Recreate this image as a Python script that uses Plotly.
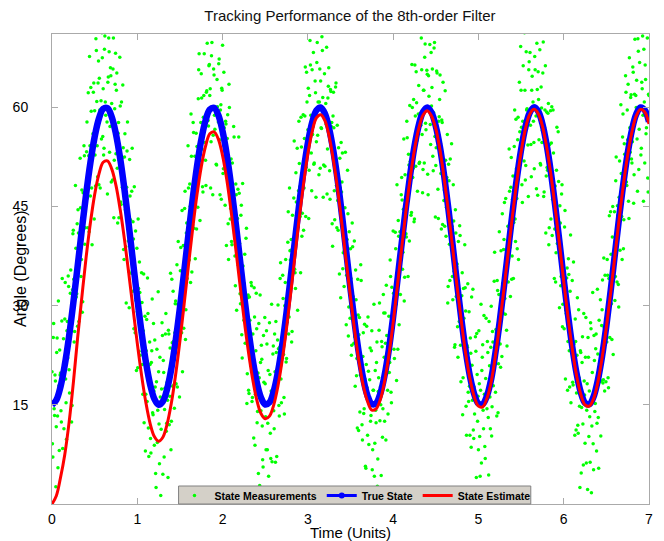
import plotly.graph_objects as go

t_curve = [0.0,0.05,0.1,0.15,0.2,0.25,0.3,0.35,0.4,0.45,
0.5,0.55,0.6,0.65,0.7,0.75,0.8,0.85,0.9,0.95,
1.0,1.05,1.1,1.15,1.2,1.25,1.3,1.35,1.4,1.45,
1.5,1.55,1.6,1.65,1.7,1.75,1.8,1.85,1.9,1.95,
2.0,2.05,2.1,2.15,2.2,2.25,2.3,2.35,2.4,2.45,
2.5,2.55,2.6,2.65,2.7,2.75,2.8,2.85,2.9,2.95,
3.0,3.05,3.1,3.15,3.2,3.25,3.3,3.35,3.4,3.45,
3.5,3.55,3.6,3.65,3.7,3.75,3.8,3.85,3.9,3.95,
4.0,4.05,4.1,4.15,4.2,4.25,4.3,4.35,4.4,4.45,
4.5,4.55,4.6,4.65,4.7,4.75,4.8,4.85,4.9,4.95,
5.0,5.05,5.1,5.15,5.2,5.25,5.3,5.35,5.4,5.45,
5.5,5.55,5.6,5.65,5.7,5.75,5.8,5.85,5.9,5.95,
6.0,6.05,6.1,6.15,6.2,6.25,6.3,6.35,6.4,6.45,
6.5,6.55,6.6,6.65,6.7,6.75,6.8,6.85,6.9,6.95,
7.0]

true_state = [15.00,15.70,17.75,21.04,25.34,30.41,35.91,41.51,46.86,51.63,
55.52,58.30,59.77,59.87,58.57,55.96,52.21,47.54,42.24,36.65,
31.12,25.98,21.55,18.13,15.90,15.00,15.53,17.41,20.54,24.72,
29.70,35.17,40.77,46.20,51.05,55.08,58.00,59.66,59.94,58.83,
56.38,52.77,48.20,42.96,37.40,31.84,26.63,22.09,18.51,16.12,
15.05,15.37,17.08,20.05,24.11,28.99,34.42,40.02,45.49,50.42,
54.59,57.69,59.55,59.99,59.05,56.78,53.33,48.91,43.69,38.14,
32.56,27.29,22.64,18.92,16.37,15.13,15.25,16.73,19.49,23.38,
28.32,33.83,39.40,44.91,49.82,54.09,57.28,59.31,60.00,59.23,
57.15,53.92,49.49,44.40,38.89,33.29,27.96,23.22,19.36,16.65,
15.20,15.10,16.36,18.93,22.94,27.65,33.01,38.56,44.07,49.20,
53.60,56.97,59.16,60.00,59.44,57.52,54.33,50.13,45.13,39.66,
34.03,28.64,23.81,19.81,16.92,15.31,15.08,16.23,18.73,22.37,
26.96,32.22,37.80,43.35,48.55,53.06,56.59,58.95,59.98,59.59,
57.83]

state_estimate = [0.0,1.2,4.0,7.5,12.3,18.3,25.1,31.3,37.3,42.5,
46.8,49.9,51.7,51.9,50.7,48.2,44.5,40.0,34.9,29.6,
24.3,19.5,15.4,12.2,10.2,9.5,10.1,12.1,15.3,19.6,
24.7,30.3,36.1,41.7,46.8,51.0,54.1,56.0,56.3,55.2,
52.7,49.0,44.3,39.1,33.6,28.2,23.3,19.1,15.8,13.7,
12.9,13.3,15.0,17.9,21.8,26.6,32.0,37.7,43.4,48.5,
53.0,56.3,58.4,58.9,58.0,55.6,52.0,47.5,42.3,36.7,
31.3,26.1,21.5,17.9,15.5,14.2,14.4,15.8,18.6,22.5,
27.4,33.0,38.7,44.3,49.3,53.6,56.8,58.8,59.5,58.7,
56.8,53.5,49.1,44.0,38.5,32.9,27.6,22.8,19.0,16.3,
14.8,14.7,16.0,18.5,22.5,27.3,32.6,38.2,43.7,48.8,
53.2,56.7,58.9,59.7,59.1,57.2,54.0,49.8,44.8,39.4,
33.7,28.3,23.5,19.5,16.6,15.0,14.8,15.9,18.4,22.1,
26.7,31.9,37.5,43.1,48.3,52.8,56.3,58.7,59.7,59.3,
57.5]

meas_t = [0.00,0.01,0.02,0.03,0.04,0.05,0.06,0.07,0.08,0.09,0.10,0.11,0.12,0.13,0.14,0.15,0.16,0.17,0.18,0.19,
0.20,0.21,0.22,0.23,0.24,0.25,0.26,0.27,0.28,0.29,0.30,0.31,0.32,0.33,0.34,0.35,0.36,0.37,0.38,0.39,
0.40,0.41,0.42,0.43,0.44,0.45,0.46,0.47,0.48,0.49,0.50,0.51,0.52,0.53,0.54,0.55,0.56,0.57,0.58,0.59,
0.60,0.61,0.62,0.63,0.64,0.65,0.66,0.67,0.68,0.69,0.70,0.71,0.72,0.73,0.74,0.75,0.76,0.77,0.78,0.79,
0.80,0.81,0.82,0.83,0.84,0.85,0.86,0.87,0.88,0.89,0.90,0.91,0.92,0.93,0.94,0.95,0.96,0.97,0.98,0.99,
1.00,1.01,1.02,1.03,1.04,1.05,1.06,1.07,1.08,1.09,1.10,1.11,1.12,1.13,1.14,1.15,1.16,1.17,1.18,1.19,
1.20,1.21,1.22,1.23,1.24,1.25,1.26,1.27,1.28,1.29,1.30,1.31,1.32,1.33,1.34,1.35,1.36,1.37,1.38,1.39,
1.40,1.41,1.42,1.43,1.44,1.45,1.46,1.47,1.48,1.49,1.50,1.51,1.52,1.53,1.54,1.55,1.56,1.57,1.58,1.59,
1.60,1.61,1.62,1.63,1.64,1.65,1.66,1.67,1.68,1.69,1.70,1.71,1.72,1.73,1.74,1.75,1.76,1.77,1.78,1.79,
1.80,1.81,1.82,1.83,1.84,1.85,1.86,1.87,1.88,1.89,1.90,1.91,1.92,1.93,1.94,1.95,1.96,1.97,1.98,1.99,
2.00,2.01,2.02,2.03,2.04,2.05,2.06,2.07,2.08,2.09,2.10,2.11,2.12,2.13,2.14,2.15,2.16,2.17,2.18,2.19,
2.20,2.21,2.22,2.23,2.24,2.25,2.26,2.27,2.28,2.29,2.30,2.31,2.32,2.33,2.34,2.35,2.36,2.37,2.38,2.39,
2.40,2.41,2.42,2.43,2.44,2.45,2.46,2.47,2.48,2.49,2.50,2.51,2.52,2.53,2.54,2.55,2.56,2.57,2.58,2.59,
2.60,2.61,2.62,2.63,2.64,2.65,2.66,2.67,2.68,2.69,2.70,2.71,2.72,2.73,2.74,2.75,2.76,2.77,2.78,2.79,
2.80,2.81,2.82,2.83,2.84,2.85,2.86,2.87,2.88,2.89,2.90,2.91,2.92,2.93,2.94,2.95,2.96,2.97,2.98,2.99,
3.00,3.01,3.02,3.03,3.04,3.05,3.06,3.07,3.08,3.09,3.10,3.11,3.12,3.13,3.14,3.15,3.16,3.17,3.18,3.19,
3.20,3.21,3.22,3.23,3.24,3.25,3.26,3.27,3.28,3.29,3.30,3.31,3.32,3.33,3.34,3.35,3.36,3.37,3.38,3.39,
3.40,3.41,3.42,3.43,3.44,3.45,3.46,3.47,3.48,3.49,3.50,3.51,3.52,3.53,3.54,3.55,3.56,3.57,3.58,3.59,
3.60,3.61,3.62,3.63,3.64,3.65,3.66,3.67,3.68,3.69,3.70,3.71,3.72,3.73,3.74,3.75,3.76,3.77,3.78,3.79,
3.80,3.81,3.82,3.83,3.84,3.85,3.86,3.87,3.88,3.89,3.90,3.91,3.92,3.93,3.94,3.95,3.96,3.97,3.98,3.99,
4.00,4.01,4.02,4.03,4.04,4.05,4.06,4.07,4.08,4.09,4.10,4.11,4.12,4.13,4.14,4.15,4.16,4.17,4.18,4.19,
4.20,4.21,4.22,4.23,4.24,4.25,4.26,4.27,4.28,4.29,4.30,4.31,4.32,4.33,4.34,4.35,4.36,4.37,4.38,4.39,
4.40,4.41,4.42,4.43,4.44,4.45,4.46,4.47,4.48,4.49,4.50,4.51,4.52,4.53,4.54,4.55,4.56,4.57,4.58,4.59,
4.60,4.61,4.62,4.63,4.64,4.65,4.66,4.67,4.68,4.69,4.70,4.71,4.72,4.73,4.74,4.75,4.76,4.77,4.78,4.79,
4.80,4.81,4.82,4.83,4.84,4.85,4.86,4.87,4.88,4.89,4.90,4.91,4.92,4.93,4.94,4.95,4.96,4.97,4.98,4.99,
5.00,5.01,5.02,5.03,5.04,5.05,5.06,5.07,5.08,5.09,5.10,5.11,5.12,5.13,5.14,5.15,5.16,5.17,5.18,5.19,
5.20,5.21,5.22,5.23,5.24,5.25,5.26,5.27,5.28,5.29,5.30,5.31,5.32,5.33,5.34,5.35,5.36,5.37,5.38,5.39,
5.40,5.41,5.42,5.43,5.44,5.45,5.46,5.47,5.48,5.49,5.50,5.51,5.52,5.53,5.54,5.55,5.56,5.57,5.58,5.59,
5.60,5.61,5.62,5.63,5.64,5.65,5.66,5.67,5.68,5.69,5.70,5.71,5.72,5.73,5.74,5.75,5.76,5.77,5.78,5.79,
5.80,5.81,5.82,5.83,5.84,5.85,5.86,5.87,5.88,5.89,5.90,5.91,5.92,5.93,5.94,5.95,5.96,5.97,5.98,5.99,
6.00,6.01,6.02,6.03,6.04,6.05,6.06,6.07,6.08,6.09,6.10,6.11,6.12,6.13,6.14,6.15,6.16,6.17,6.18,6.19,
6.20,6.21,6.22,6.23,6.24,6.25,6.26,6.27,6.28,6.29,6.30,6.31,6.32,6.33,6.34,6.35,6.36,6.37,6.38,6.39,
6.40,6.41,6.42,6.43,6.44,6.45,6.46,6.47,6.48,6.49,6.50,6.51,6.52,6.53,6.54,6.55,6.56,6.57,6.58,6.59,
6.60,6.61,6.62,6.63,6.64,6.65,6.66,6.67,6.68,6.69,6.70,6.71,6.72,6.73,6.74,6.75,6.76,6.77,6.78,6.79,
6.80,6.81,6.82,6.83,6.84,6.85,6.86,6.87,6.88,6.89,6.90,6.91,6.92,6.93,6.94,6.95,6.96,6.97,6.98,6.99,
7.00]

meas_y = [20.0,7.1,27.3,13.4,18.6, 11.7,25.1,5.5,17.9,23.3, 19.8,12.4,34.1,18.7,11.4, 28.0,18.9,9.8,27.6,34.5,
20.3,27.4,35.4,12.4,32.4, 41.4,24.5,32.6,38.7,31.8, 26.9,41.0,36.2,52.3,34.4, 47.5,30.6,45.7,52.7,41.8,
45.9,57.8,41.8,52.7,67.7, 46.6,59.4,39.2,56.0,63.7, 59.5,48.1,68.6,54.2,63.7, 48.3,59.6,73.9,55.2,67.5,
62.8,53.8,70.8,58.8,78.8, 46.9,64.6,68.4,57.1,64.8, 60.6,49.0,70.5,52.0,63.5, 53.0,65.2,42.5,57.7,52.0,
60.2,45.3,52.3,63.4,38.5, 52.5,44.5,30.4,53.4,44.3, 35.2,52.1,43.0,34.9,53.8, 42.7,26.5,35.4,41.3,20.2,
29.1,43.1,23.1,32.0,26.0, 35.0,21.1,26.2,12.3,28.4, 16.6,27.9,34.2,11.5,19.8, 21.1,7.7,23.2,13.8,27.3,
8.9,17.7,2.5,23.4,14.2, 20.0,6.1,16.2,11.3,27.4, 4.5,19.9,14.3,25.7,11.0, 18.4,4.0,25.7,16.3,34.9,
12.5,24.4,32.2,18.0,25.9, 30.7,23.7,17.7,39.7,24.7, 30.7,38.8,25.9,20.0,39.1, 32.2,47.3,29.4,42.5,38.6,
47.8,36.9,45.0,59.0,35.1, 42.2,56.2,47.1,37.1,56.1, 54.1,44.9,65.7,54.5,51.3, 65.1,53.7,47.2,61.8,73.4,
52.0,62.3,69.7,58.0,66.3, 61.8,47.8,67.8,73.8,55.8, 64.9,56.7,71.5,51.3,60.1, 57.8,67.3,46.8,60.4,62.9,
69.4,50.7,56.9,45.2,57.5, 50.8,58.9,37.0,60.0,43.1, 52.2,39.2,47.1,57.1,41.0, 33.0,46.8,38.7,47.6,55.5,
39.4,30.3,45.2,22.1,36.0, 27.8,37.8,28.8,41.7,19.7, 31.6,16.7,27.8,20.9,33.0, 16.1,22.4,32.7,8.9,23.2,
26.5,14.0,4.6,19.1,31.6, 14.1,21.9,6.7,25.5,1.3, 18.2,8.2,24.2,12.2,4.2, 27.4,10.7,17.1,6.4,22.7,
14.1,25.7,6.3,22.9,18.5, 30.1,14.9,23.7,36.5,15.3, 23.1,31.1,16.1,30.0,37.0, 22.0,31.1,44.2,28.3,38.3,
38.4,24.5,43.7,35.8,54.9, 35.0,50.1,41.2,29.3,47.4, 51.5,43.5,58.5,40.5,50.4, 41.4,55.3,66.1,50.9,60.8,
56.6,43.2,61.8,66.4,53.1, 65.7,57.1,51.4,75.8,62.2, 54.8,69.8,60.8,49.8,65.8, 64.0,56.8,68.6,46.4,72.2,
51.1,60.6,69.1,53.7,63.2, 57.8,46.1,62.4,57.7,39.0, 62.3,47.4,50.6,63.7,41.8, 45.9,53.9,34.8,47.8,54.7,
48.7,35.6,42.5,38.4,53.2, 27.1,40.0,43.9,29.8,32.7, 38.6,22.5,42.5,31.4,24.3, 25.3,35.4,19.4,11.5,28.6,
25.6,13.9,36.2,19.4,9.7, 25.9,14.4,18.9,5.4,26.9, 10.4,20.1,0.9,23.6,13.4, 26.2,8.2,17.2,4.2,20.2,
12.3,24.5,6.8,19.1,30.4, 17.7,4.3,23.8,14.4,28.9, 12.5,24.3,33.1,19.8,13.6, 28.4,21.4,34.4,15.3,28.3,
41.3,23.4,32.5,38.6,18.7, 31.8,42.9,27.1,41.2,39.3, 49.4,35.5,44.6,30.7,49.8, 40.9,57.9,45.9,52.9,39.8,
51.8,43.7,66.5,49.4,61.2, 43.1,58.7,65.4,55.0,73.6, 63.3,51.7,59.1,70.5,55.9, 50.6,62.6,67.6,57.6,73.6,
65.0,46.8,61.7,69.5,54.4, 60.2,65.8,50.4,69.0,55.6, 51.2,65.5,54.9,43.2,58.6, 64.9,50.0,58.1,42.3,51.4,
47.5,62.5,40.5,49.4,30.4, 51.4,39.3,52.2,40.1,42.0, 30.9,42.8,23.7,44.5,31.4, 36.3,22.2,32.2,42.1,24.0,
27.0,35.0,19.1,28.1,39.2, 29.2,10.4,23.7,16.9,29.1, 10.4,22.8,31.3,15.7,11.2, 17.7,2.4,23.1,25.8,12.5,
8.2,18.2,4.2,30.2,20.2, 24.1,11.4,16.6,6.9,28.1, 14.4,22.9,4.4,20.9,11.4, 29.9,14.7,24.5,20.3,38.1,
16.9,25.9,33.8,13.8,31.7, 31.7,20.7,28.8,43.9,28.9, 40.0,31.1,46.2,26.3,38.5, 33.6,53.7,38.8,47.9,34.0,
46.1,34.1,54.1,43.1,58.2, 46.2,55.1,37.0,63.8,53.7, 62.6,48.3,57.9,54.6,71.3, 49.0,68.4,59.8,54.3,65.7,
72.2,57.3,49.5,64.7,60.8, 54.7,67.7,75.7,47.7,62.7, 65.4,55.1,68.7,51.3,59.9, 56.5,69.9,47.2,59.6,41.0,
59.3,50.5,60.6,41.8,52.0, 43.1,60.1,46.1,53.1,34.1, 48.1,38.0,57.0,40.9,48.8, 29.7,42.5,34.4,48.3,30.2,
35.0,41.9,18.9,28.8,35.7, 24.6,34.7,17.7,40.7,23.8, 33.8,18.0,24.2,10.4,24.6, 16.8,31.2,10.7,19.1,2.5,
22.9,14.6,25.3,5.9,18.6, 9.2,28.2,14.2,2.2,22.2, 17.1,6.3,26.5,11.8,32.0, 5.2,21.7,15.2,25.7,12.2,
22.7,5.4,21.2,30.9,18.6, 29.4,18.3,37.2,17.1,28.0, 25.0,37.0,19.1,34.1,25.2, 44.2,30.3,40.4,22.6,37.7,
30.8,48.9,39.0,45.1,33.2, 46.4,38.4,60.4,43.5,55.5, 38.6,54.5,51.4,62.3,48.2, 55.1,45.8,67.5,53.2,61.9,
51.6,66.1,45.5,62.0,74.5, 60.0,55.2,70.4,50.6,66.8, 73.8,53.8,62.8,58.8,68.8, 51.6,64.2,56.9,70.5,47.2,
61.8]

meas_t_mid = [0.005,0.015,0.025,0.035,0.045,0.055,0.065,0.075,0.085,0.095,0.105,0.115,0.125,0.135,0.145,0.155,0.165,0.175,0.185,0.195,
0.205,0.215,0.225,0.235,0.245,0.255,0.265,0.275,0.285,0.295,0.305,0.315,0.325,0.335,0.345,0.355,0.365,0.375,0.385,0.395,
0.405,0.415,0.425,0.435,0.445,0.455,0.465,0.475,0.485,0.495,0.505,0.515,0.525,0.535,0.545,0.555,0.565,0.575,0.585,0.595,
0.605,0.615,0.625,0.635,0.645,0.655,0.665,0.675,0.685,0.695,0.705,0.715,0.725,0.735,0.745,0.755,0.765,0.775,0.785,0.795,
0.805,0.815,0.825,0.835,0.845,0.855,0.865,0.875,0.885,0.895,0.905,0.915,0.925,0.935,0.945,0.955,0.965,0.975,0.985,0.995,
1.005,1.015,1.025,1.035,1.045,1.055,1.065,1.075,1.085,1.095,1.105,1.115,1.125,1.135,1.145,1.155,1.165,1.175,1.185,1.195,
1.205,1.215,1.225,1.235,1.245,1.255,1.265,1.275,1.285,1.295,1.305,1.315,1.325,1.335,1.345,1.355,1.365,1.375,1.385,1.395,
1.405,1.415,1.425,1.435,1.445,1.455,1.465,1.475,1.485,1.495,1.505,1.515,1.525,1.535,1.545,1.555,1.565,1.575,1.585,1.595,
1.605,1.615,1.625,1.635,1.645,1.655,1.665,1.675,1.685,1.695,1.705,1.715,1.725,1.735,1.745,1.755,1.765,1.775,1.785,1.795,
1.805,1.815,1.825,1.835,1.845,1.855,1.865,1.875,1.885,1.895,1.905,1.915,1.925,1.935,1.945,1.955,1.965,1.975,1.985,1.995,
2.005,2.015,2.025,2.035,2.045,2.055,2.065,2.075,2.085,2.095,2.105,2.115,2.125,2.135,2.145,2.155,2.165,2.175,2.185,2.195,
2.205,2.215,2.225,2.235,2.245,2.255,2.265,2.275,2.285,2.295,2.305,2.315,2.325,2.335,2.345,2.355,2.365,2.375,2.385,2.395,
2.405,2.415,2.425,2.435,2.445,2.455,2.465,2.475,2.485,2.495,2.505,2.515,2.525,2.535,2.545,2.555,2.565,2.575,2.585,2.595,
2.605,2.615,2.625,2.635,2.645,2.655,2.665,2.675,2.685,2.695,2.705,2.715,2.725,2.735,2.745,2.755,2.765,2.775,2.785,2.795,
2.805,2.815,2.825,2.835,2.845,2.855,2.865,2.875,2.885,2.895,2.905,2.915,2.925,2.935,2.945,2.955,2.965,2.975,2.985,2.995,
3.005,3.015,3.025,3.035,3.045,3.055,3.065,3.075,3.085,3.095,3.105,3.115,3.125,3.135,3.145,3.155,3.165,3.175,3.185,3.195,
3.205,3.215,3.225,3.235,3.245,3.255,3.265,3.275,3.285,3.295,3.305,3.315,3.325,3.335,3.345,3.355,3.365,3.375,3.385,3.395,
3.405,3.415,3.425,3.435,3.445,3.455,3.465,3.475,3.485,3.495,3.505,3.515,3.525,3.535,3.545,3.555,3.565,3.575,3.585,3.595,
3.605,3.615,3.625,3.635,3.645,3.655,3.665,3.675,3.685,3.695,3.705,3.715,3.725,3.735,3.745,3.755,3.765,3.775,3.785,3.795,
3.805,3.815,3.825,3.835,3.845,3.855,3.865,3.875,3.885,3.895,3.905,3.915,3.925,3.935,3.945,3.955,3.965,3.975,3.985,3.995,
4.005,4.015,4.025,4.035,4.045,4.055,4.065,4.075,4.085,4.095,4.105,4.115,4.125,4.135,4.145,4.155,4.165,4.175,4.185,4.195,
4.205,4.215,4.225,4.235,4.245,4.255,4.265,4.275,4.285,4.295,4.305,4.315,4.325,4.335,4.345,4.355,4.365,4.375,4.385,4.395,
4.405,4.415,4.425,4.435,4.445,4.455,4.465,4.475,4.485,4.495,4.505,4.515,4.525,4.535,4.545,4.555,4.565,4.575,4.585,4.595,
4.605,4.615,4.625,4.635,4.645,4.655,4.665,4.675,4.685,4.695,4.705,4.715,4.725,4.735,4.745,4.755,4.765,4.775,4.785,4.795,
4.805,4.815,4.825,4.835,4.845,4.855,4.865,4.875,4.885,4.895,4.905,4.915,4.925,4.935,4.945,4.955,4.965,4.975,4.985,4.995,
5.005,5.015,5.025,5.035,5.045,5.055,5.065,5.075,5.085,5.095,5.105,5.115,5.125,5.135,5.145,5.155,5.165,5.175,5.185,5.195,
5.205,5.215,5.225,5.235,5.245,5.255,5.265,5.275,5.285,5.295,5.305,5.315,5.325,5.335,5.345,5.355,5.365,5.375,5.385,5.395,
5.405,5.415,5.425,5.435,5.445,5.455,5.465,5.475,5.485,5.495,5.505,5.515,5.525,5.535,5.545,5.555,5.565,5.575,5.585,5.595,
5.605,5.615,5.625,5.635,5.645,5.655,5.665,5.675,5.685,5.695,5.705,5.715,5.725,5.735,5.745,5.755,5.765,5.775,5.785,5.795,
5.805,5.815,5.825,5.835,5.845,5.855,5.865,5.875,5.885,5.895,5.905,5.915,5.925,5.935,5.945,5.955,5.965,5.975,5.985,5.995,
6.005,6.015,6.025,6.035,6.045,6.055,6.065,6.075,6.085,6.095,6.105,6.115,6.125,6.135,6.145,6.155,6.165,6.175,6.185,6.195,
6.205,6.215,6.225,6.235,6.245,6.255,6.265,6.275,6.285,6.295,6.305,6.315,6.325,6.335,6.345,6.355,6.365,6.375,6.385,6.395,
6.405,6.415,6.425,6.435,6.445,6.455,6.465,6.475,6.485,6.495,6.505,6.515,6.525,6.535,6.545,6.555,6.565,6.575,6.585,6.595,
6.605,6.615,6.625,6.635,6.645,6.655,6.665,6.675,6.685,6.695,6.705,6.715,6.725,6.735,6.745,6.755,6.765,6.775,6.785,6.795,
6.805,6.815,6.825,6.835,6.845,6.855,6.865,6.875,6.885,6.895,6.905,6.915,6.925,6.935,6.945,6.955,6.965,6.975,6.985,6.995]

meas_y_mid = [9.1,25.2,14.4,19.5,2.6, 22.9,13.3,30.7,8.1,19.5, 14.1,27.7,8.4,25.0,20.7, 33.5,15.3,26.2,22.1,32.9,
16.8,31.9,28.9,14.9,40.9, 34.0,26.1,48.2,31.3,42.4, 44.5,27.6,40.7,44.8,37.0, 29.0,47.1,54.2,39.3,47.3,
53.3,46.3,62.2,41.2,54.2, 63.0,47.8,54.6,62.3,43.1, 52.8,70.4,60.9,49.5,67.0, 64.4,47.8,61.0,71.3,55.6,
52.8,68.8,60.8,75.8,57.8, 63.8,70.5,53.2,66.0,48.7, 57.3,65.8,43.3,59.8,68.2, 62.6,50.8,56.1,43.3,67.6,
45.7,60.8,47.9,53.9,37.0, 56.0,38.9,47.9,57.8,39.8, 29.7,46.6,38.4,47.3,32.2, 40.1,48.0,25.9,30.8,38.7,
20.6,32.6,36.6,22.5,27.5, 30.5,16.6,34.8,21.9,8.0, 23.2,15.5,28.8,7.2,24.5, 9.9,21.4,31.0,13.5,17.1,
24.8,4.6,18.5,9.3,32.1, 12.1,22.2,1.3,17.4,25.5, 21.7,7.1,17.5,28.8,12.2, 15.7,26.3,12.0,23.6,8.2,
34.0,17.8,24.6,14.5,30.3, 18.2,36.2,30.2,26.2,16.2, 35.3,27.3,44.4,34.5,26.6, 44.7,24.9,41.0,34.1,54.2,
38.3,48.4,33.5,52.6,47.7, 57.7,41.7,52.6,48.6,41.6, 47.5,61.3,68.1,42.9,57.7, 61.4,48.0,58.5,68.1,54.7,
48.2,62.5,71.8,57.2,66.5, 62.8,54.8,69.8,46.8,65.8, 58.8,71.6,51.4,64.2,75.9, 66.6,55.1,59.6,46.1,62.6,
50.0,65.3,52.6,57.9,39.1, 55.3,42.4,63.5,50.6,44.7, 39.7,51.6,44.6,55.5,37.5, 48.4,29.3,43.2,36.1,47.0,
31.8,43.7,25.6,48.5,33.4, 33.3,24.3,40.2,15.2,31.2, 17.2,31.3,22.4,33.5,15.5, 25.7,10.0,28.3,16.6,31.9,
12.3,19.8,27.3,2.8,21.4, 24.0,11.8,5.6,18.4,28.2, 13.2,26.2,8.2,20.2,1.2, 19.6,6.9,30.2,15.6,23.9,
11.4,20.0,27.6,7.2,24.8, 23.5,13.3,34.1,18.9,24.7, 34.6,22.6,13.6,33.5,21.5, 27.5,39.6,25.7,47.8,36.9,
40.0,26.1,38.2,46.3,35.5, 32.6,45.7,53.8,41.9,57.9, 48.0,35.0,54.0,44.0,58.9, 47.8,58.7,43.5,65.3,55.2,
62.9,50.5,70.1,58.8,47.4, 55.9,68.3,51.6,64.0,46.4, 66.8,55.8,75.8,60.8,50.8, 56.9,70.7,61.5,51.3,65.1,
71.9,57.4,46.9,61.4,66.0, 50.4,62.7,57.1,42.4,58.7, 56.9,43.0,63.1,48.2,57.3, 41.4,48.3,52.3,31.2,47.2,
53.1,38.0,32.9,44.8,39.7, 34.6,50.5,25.4,41.2,28.1, 34.1,24.0,38.9,27.9,39.8, 17.8,30.9,22.0,34.0,11.1,
28.2,19.5,33.8,12.0,22.3, 13.7,27.2,5.7,21.1,17.6, 28.3,9.0,18.8,12.5,23.2, 5.2,17.2,30.2,9.2,14.2,
21.4,2.7,17.0,26.3,12.6, 15.0,24.6,10.1,31.7,22.2, 28.9,9.7,25.5,17.2,24.0, 19.9,36.9,16.9,32.8,26.8,
31.9,22.0,41.1,30.2,48.3, 23.4,40.5,38.6,31.7,46.8, 46.0,38.1,55.2,34.3,45.4, 40.4,55.4,34.4,51.3,60.3,
51.2,44.1,60.0,50.8,42.7, 66.4,51.1,60.7,47.3,59.0, 51.5,71.9,57.3,65.7,47.1, 62.6,51.6,69.6,56.6,65.6,
49.9,64.8,76.6,57.4,68.3, 63.0,52.6,59.2,69.8,43.4, 53.9,65.2,47.6,57.9,61.2, 54.5,41.6,57.7,63.8,45.9,
42.0,52.0,44.9,55.9,32.9, 48.9,33.8,42.7,54.5,34.4, 48.3,35.2,24.1,41.0,35.9, 26.8,39.7,27.6,40.6,18.5,
31.5,13.5,32.6,23.6,32.7, 14.8,24.0,33.3,15.5,17.8, 25.1,8.6,21.0,32.5,9.9, 13.6,25.3,4.0,19.6,16.3,
26.2,10.2,17.2,6.2,22.2, 14.2,28.5,8.7,19.0,2.2, 24.6,13.1,27.6,16.2,23.7, 10.3,26.1,17.9,33.7,23.5,
26.4,13.3,32.3,21.2,41.2, 24.2,38.3,22.3,33.4,38.5, 45.6,28.7,36.8,23.9,42.0, 37.2,47.3,31.4,52.4,37.5,
49.6,42.6,59.6,39.7,50.7, 38.6,58.5,50.4,56.3,69.2, 57.0,45.6,66.3,51.9,62.6, 51.2,59.6,72.1,46.5,66.9,
68.3,54.4,62.6,71.7,57.9, 50.7,65.7,58.7,69.7,46.7, 61.2,71.9,51.5,63.1,54.7, 65.2,46.5,56.9,66.3,49.6,
50.9,59.1,39.2,54.4,59.5, 54.6,40.6,59.6,45.6,41.6, 33.6,50.5,39.4,56.3,41.2, 45.1,33.0,46.9,26.8,36.6,
26.5,44.4,29.3,34.2,17.2, 37.1,23.2,32.2,15.3,25.3, 18.4,36.6,20.8,28.0,11.2, 22.5,11.9,29.4,14.8,23.2,
4.7,21.4,12.1,28.8,16.5, 22.2,6.2,18.2,25.2,10.2, 13.2,27.4,1.7,19.9,9.1, 25.5,14.0,23.5,8.0,32.5,
13.1,27.8,18.5,10.3,27.0, 33.9,18.8,26.7,34.6,18.5, 24.5,34.6,17.6,43.6,32.7, 37.8,24.9,45.0,34.1,44.2,
34.4,52.5,33.6,43.7,29.8, 51.9,42.9,50.0,37.0,59.0, 43.0,52.9,64.8,48.7,59.6, 63.5,43.2,56.9,61.5,52.2,
54.8,65.3,49.8,70.3,61.8, 64.1,47.3,68.5,56.7,74.9, 52.8,63.8,70.8,45.8,60.8, 66.4,56.0,71.7,49.3,62.0]

x_ticks = [0, 1, 2, 3, 4, 5, 6, 7]
y_ticks = [15, 30, 45, 60]

FONT = "Liberation Sans, Arial, Helvetica, sans-serif"

fig = go.Figure()
fig.add_trace(go.Scatter(
    x=meas_t + meas_t_mid, y=meas_y + meas_y_mid, mode="markers", name="State Measurements",
    marker=dict(color="#00ff00", size=3.5, line=dict(width=0)),
))
fig.add_trace(go.Scatter(
    x=t_curve, y=true_state, mode="lines", name="True State", showlegend=False,
    line=dict(color="#0000ff", width=6.5, shape="spline"),
))
fig.add_trace(go.Scatter(
    x=[None], y=[None], mode="lines+markers", name="True State",
    line=dict(color="#0000ff", width=3), marker=dict(color="#0000ff", size=6),
))
fig.add_trace(go.Scatter(
    x=t_curve, y=state_estimate, mode="lines", name="State Estimate",
    line=dict(color="#ff0000", width=3, shape="spline"),
))

axis_common = dict(
    showgrid=False, zeroline=False, showline=True, linecolor="#aaaaaa", linewidth=1,
    mirror="ticks", ticks="inside", ticklen=6, tickcolor="#aaaaaa", tickwidth=1,
    tickfont=dict(family=FONT, size=14, color="#000000"),
)

fig.update_layout(
    width=664, height=541,
    margin=dict(l=52, r=15, t=34, b=37),
    paper_bgcolor="white", plot_bgcolor="white",
    font=dict(family=FONT, color="#000000"),
    title=dict(text="Tracking Performance of the 8th-order Filter", x=0.527, xanchor="center",
               y=1 - 16 / 541, yanchor="middle", font=dict(family=FONT, size=15, color="#111111")),
    xaxis=dict(range=[0, 7], tickvals=x_ticks, ticktext=[str(v) for v in x_ticks],
               ticklabelstandoff=2, **axis_common),
    yaxis=dict(range=[0, 71.1], tickvals=y_ticks, ticktext=[str(v) for v in y_ticks],
               ticklabelstandoff=20, **axis_common),
    legend=dict(orientation="h", x=0.5075, xanchor="center", y=-6 / 470, yanchor="bottom",
                bgcolor="rgba(0,0,0,0)", borderwidth=0,
                font=dict(family=FONT, size=10.5, color="#000000", weight="bold"),
                itemwidth=30),
    shapes=[dict(type="rect", xref="paper", yref="paper", x0=0.212, x1=0.802, y0=0, y1=18 / 470,
                 fillcolor="#d4d0c8", line=dict(color="#808080", width=1), layer="above")],
    annotations=[
        dict(text="Time (Units)", xref="paper", yref="paper", x=0.5, y=0, yshift=-28,
             xanchor="center", yanchor="middle", showarrow=False,
             font=dict(family=FONT, size=15, color="#000000")),
        dict(text="Angle (Degrees)", xref="paper", yref="paper", x=0, y=0.5, xshift=-32,
             xanchor="center", yanchor="middle", textangle=-90, showarrow=False,
             font=dict(family=FONT, size=16, color="#000000")),
    ],
)

fig.write_html("out.html")
